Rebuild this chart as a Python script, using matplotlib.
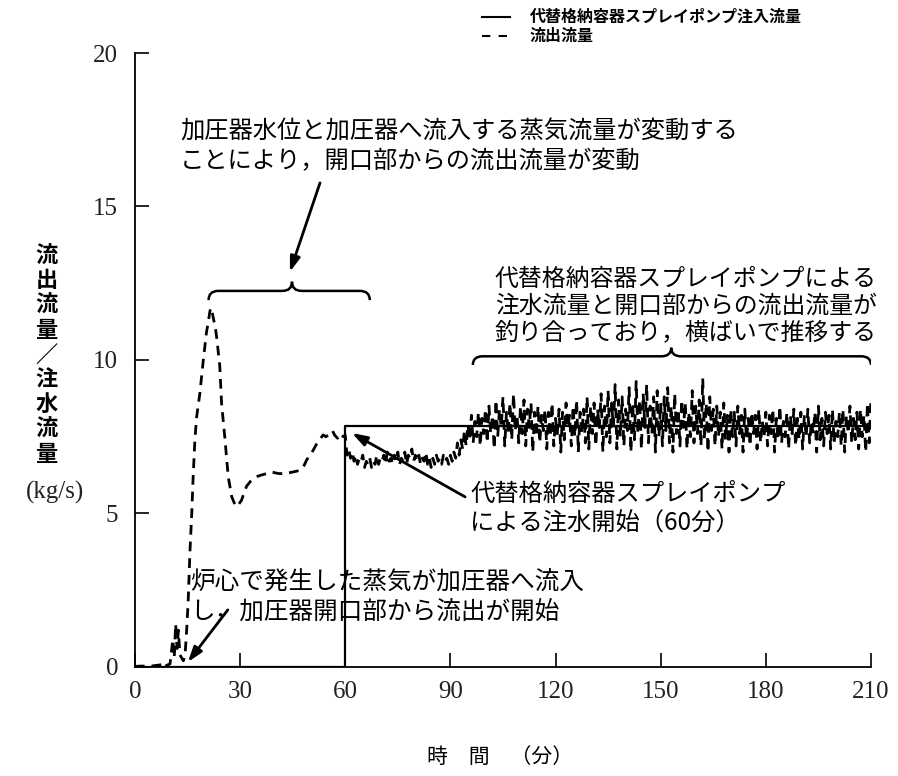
import numpy as np
import matplotlib.pyplot as plt
from matplotlib.path import Path
from matplotlib.patches import PathPatch
from matplotlib.lines import Line2D

plt.rcParams['font.family'] = ['Noto Sans CJK JP', 'DejaVu Sans']

# injection flow (solid)
inj_t = [0, 60, 60, 210]
inj_v = [0, 0, 7.85, 7.85]

# outflow (dashed), first hour
out_t1 = [0, 2, 4, 6, 8, 8.6, 9, 10, 10.8, 11.2, 11.6, 12, 12.4, 12.8, 13.3, 13.8,
          14.3, 14.8, 15.2, 15.7, 16.2, 16.6, 17.1, 17.6, 18.5, 19.5, 20.4, 21.0,
          21.4, 21.8, 22.3, 23.0, 23.3, 24.2, 24.7, 25.7, 26.6, 27.6, 28.3, 29.0,
          29.6, 30.4, 31.2, 31.9, 33.0, 34.7, 36.0, 37.6, 39.0, 41.0, 43.0, 45.0,
          47.0, 48.0, 49.0, 50.0, 50.9, 52.0, 53.7, 54.5, 55.6, 56.3, 57.0, 57.8,
          58.5, 59.5, 60.0]
out_v1 = [0.02, 0.03, 0.02, 0.05, 0.08, 0.15, 0.05, 0.1, 0.9, 0.3, 1.4, 0.6, 1.2,
          0.4, 0.3, 0.2, 0.4, 1.3, 2.2, 3.8, 5.0, 6.2, 7.4, 8.15, 8.9, 10.0, 10.9,
          11.3, 11.6, 11.7, 11.4, 11.0, 10.75, 9.8, 8.6, 7.4, 6.2, 5.55, 5.35,
          5.22, 5.3, 5.43, 5.7, 5.9, 6.05, 6.2, 6.25, 6.3, 6.35, 6.3, 6.3, 6.35,
          6.4, 6.5, 6.75, 6.9, 7.07, 7.3, 7.56, 7.5, 7.6, 7.7, 7.55, 7.45, 7.6,
          7.5, 7.55]

# outflow after 60 min, every 0.5 min
out_v2 = [
    6.9, 7.1, 6.8, 7.0, 6.7, 6.9, 6.6, 6.8, 6.7, 6.9, 6.5, 6.7, 6.6, 6.8, 6.5, 6.7, 6.6, 6.9, 6.6, 6.8,
    6.7, 6.9, 6.6, 7.0, 6.7, 6.8, 6.6, 6.9, 6.7, 7.0, 6.6, 6.8, 6.7, 7.0, 6.6, 6.9, 6.8, 7.1, 6.7, 6.9,
    6.7, 6.9, 6.6, 6.8, 6.7, 7.0, 6.6, 6.8, 6.5, 6.8, 6.6, 6.9, 6.7, 6.8, 6.6, 6.9, 6.7, 6.8, 6.6, 6.9,
    6.7, 7.0, 6.8, 7.3, 6.9, 7.4, 7.1, 7.7, 7.2, 7.9, 7.4, 8.2, 7.3, 8.0, 7.5, 8.3, 7.2, 8.1, 7.6, 8.4,
    7.3, 8.5, 7.6, 8.2, 7.1, 8.7, 7.5, 8.4, 7.8, 8.8, 7.2, 8.3, 7.6, 8.6, 7.4, 8.9, 7.7, 8.2, 7.3, 8.5,
    7.6, 8.7, 7.2, 8.4, 7.8, 8.6, 7.0, 8.3, 7.5, 8.5, 7.3, 8.2, 7.7, 8.4, 7.1, 8.3, 7.5, 8.6, 7.2, 8.1,
    7.6, 8.4, 7.0, 8.3, 7.4, 8.6, 7.8, 8.2, 7.2, 8.5, 7.5, 8.7, 7.0, 8.3, 7.6, 8.4, 7.3, 8.8, 7.1, 8.5,
    7.6, 8.6, 7.2, 8.4, 7.8, 8.9, 7.0, 8.5, 7.5, 9.0, 7.3, 8.6, 7.8, 9.2, 7.1, 8.7, 7.5, 8.8, 7.2, 8.4,
    7.7, 9.1, 7.0, 8.6, 7.4, 9.3, 7.6, 8.7, 7.1, 8.9, 7.8, 9.2, 7.3, 8.5, 7.6, 8.8, 7.0, 9.0, 7.5, 8.6,
    7.2, 8.8, 7.7, 9.1, 7.3, 8.5, 7.0, 8.9, 7.6, 8.4, 7.2, 8.7, 7.8, 8.6, 7.1, 8.3, 7.5, 9.0, 7.3, 8.5,
    7.6, 8.7, 7.2, 9.4, 7.4, 8.6, 7.0, 8.8, 7.7, 8.4, 7.2, 8.5, 7.5, 8.3, 7.1, 8.6, 7.4, 8.2, 7.0, 8.4,
    7.5, 8.3, 7.2, 8.5, 7.6, 8.2, 7.0, 8.4, 7.4, 8.1, 7.2, 8.3, 7.6, 8.2, 7.1, 8.4, 7.3, 8.0, 7.5, 8.3,
    7.2, 8.2, 7.6, 8.4, 7.0, 8.1, 7.4, 8.5, 7.3, 8.0, 7.5, 8.3, 7.1, 8.2, 7.6, 8.4, 7.2, 8.1, 7.4, 8.3,
    7.1, 8.2, 7.5, 8.4, 7.3, 8.0, 7.6, 8.3, 7.0, 8.5, 7.4, 8.1, 7.2, 8.3, 7.6, 8.2, 7.1, 8.4, 7.3, 8.0,
    7.5, 8.3, 7.2, 8.4, 7.0, 8.2, 7.6, 8.5, 7.3, 8.1, 7.4, 8.3, 7.1, 8.4, 7.5, 8.2, 7.0, 8.6, 7.3, 8.8,
]
out_t2 = np.arange(60.5, 210.01, 0.5)

xticks = [0, 30, 60, 90, 120, 150, 180, 210]
yticks = [0, 5, 10, 15, 20]

legend_labels = ['代替格納容器スプレイポンプ注入流量', '流出流量']


def brace(ax, x0, x1, xc, y0, ym, yt, dx):
    verts = [(x0, y0), (x0, ym), (x0 + dx, ym),
             (xc - dx, ym),
             (xc, ym), (xc, yt),
             (xc, ym), (xc + dx, ym),
             (x1 - dx, ym),
             (x1, ym), (x1, y0)]
    codes = [Path.MOVETO, Path.CURVE3, Path.CURVE3,
             Path.LINETO,
             Path.CURVE3, Path.CURVE3,
             Path.CURVE3, Path.CURVE3,
             Path.LINETO,
             Path.CURVE3, Path.CURVE3]
    ax.add_patch(PathPatch(Path(verts, codes), fill=False, lw=1.8, color='k'))


fig = plt.figure(figsize=(8.98, 7.76), dpi=100)
ax = fig.add_axes([0.1503, 0.1405, 0.8196, 0.7912])

ax.plot(inj_t, inj_v, color='k', lw=1.6)
ax.plot(list(out_t1) + list(out_t2), out_v1 + out_v2, color='k', lw=2.0,
        dashes=(3.5, 2.5))

ax.set_xlim(0, 210)
ax.set_ylim(0, 20)
ax.set_xticks(xticks)
ax.set_yticks(yticks)
ax.spines['top'].set_visible(False)
ax.spines['right'].set_visible(False)
ax.spines['left'].set_linewidth(1.3)
ax.spines['bottom'].set_linewidth(1.3)
ax.tick_params(direction='in', length=10, width=1.2)
ax.tick_params(axis='x', pad=10)
ax.tick_params(axis='y', pad=12)
for lab in ax.get_xticklabels() + ax.get_yticklabels():
    lab.set_family('Liberation Serif')
    lab.set_fontsize(18)
    lab.set_color('#222222')

# braces
brace(ax, 21, 67, 44.8, 11.95, 12.25, 12.55, 2.8)
brace(ax, 96.4, 210, 153, 9.84, 10.12, 10.4, 2.8)

arrow = dict(arrowstyle='-|>,head_length=0.9,head_width=0.3', color='k', lw=2,
             shrinkA=0, shrinkB=0)
ax.annotate('', xy=(44.2, 12.87), xytext=(52.8, 15.77), arrowprops=arrow)
ax.annotate('', xy=(61.9, 7.62), xytext=(94.2, 5.54), arrowprops=arrow)
ax.annotate('', xy=(15.1, 0.16), xytext=(26.5, 1.86), arrowprops=arrow)

ax.text(12.8, 16.95, '加圧器水位と加圧器へ流入する蒸気流量が変動する\nことにより，開口部からの流出流量が変動',
        fontsize=17.5, ha='left', va='center')
ax.text(102.7, 11.76, '代替格納容器スプレイポンプによる\n注水流量と開口部からの流出流量が\n釣り合っており，横ばいで推移する',
        fontsize=17.2, ha='left', va='center')
ax.text(95.6, 5.16, '代替格納容器スプレイポンプ\nによる注水開始（60分）',
        fontsize=17.5, ha='left', va='center')
ax.text(15.7, 2.30, '炉心で発生した蒸気が加圧器へ流入\nし，加圧器開口部から流出が開始',
        fontsize=17.7, ha='left', va='center')

# legend
fig.add_artist(Line2D([0.537, 0.568], [0.978, 0.978], color='k', lw=1.5))
fig.add_artist(Line2D([0.537, 0.568], [0.954, 0.954], color='k', lw=1.5,
                      dashes=(4, 4)))
fig.text(0.590, 0.978, legend_labels[0], fontsize=11.5, weight='bold', va='center')
fig.text(0.590, 0.954, legend_labels[1], fontsize=11.5, weight='bold', va='center')

# axis labels
fig.text(0.052, 0.5425, '流\n出\n流\n量\n／\n注\n水\n流\n量', fontsize=16,
         weight='bold', ha='center', va='center', linespacing=1.1)
fig.text(0.061, 0.366, '(kg/s)', fontsize=18, family='Liberation Serif',
         ha='center', va='center', color='#222222')
fig.text(0.557, 0.0245, '時　間　（分）', fontsize=15, ha='center', va='center')

fig.savefig('out.png', dpi=100)
